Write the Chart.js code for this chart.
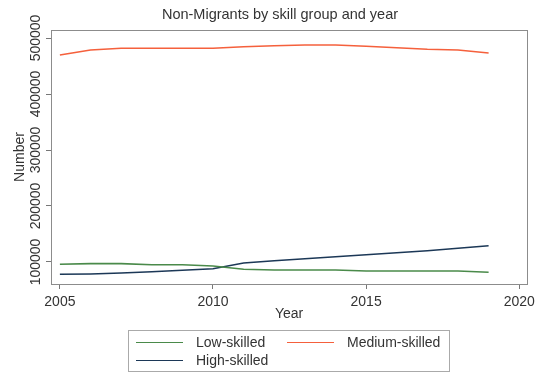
<!DOCTYPE html>
<html>
<head>
<meta charset="utf-8">
<script src="https://cdn.jsdelivr.net/npm/chart.js@4/dist/chart.umd.min.js"></script>
<style>
  html, body { margin: 0; padding: 0; background: #fff; }
  #wrap { width: 540px; height: 374px; }
</style>
</head>
<body>
<div id="wrap"><canvas id="lineChart" width="540" height="374"></canvas></div>
<script>
const years = [2005, 2006, 2007, 2008, 2009, 2010, 2011, 2012, 2013, 2014, 2015, 2016, 2017, 2018, 2019];
const lowSkilled = [95900, 97000, 97000, 95200, 95200, 92900, 87000, 85700, 85700, 85700, 83900, 83900, 83900, 83900, 81600];
const mediumSkilled = [469600, 478600, 481600, 481600, 481600, 481600, 484500, 486300, 487500, 487500, 485200, 482700, 479800, 478600, 473200];
const highSkilled = [78000, 78600, 80400, 82700, 85200, 88000, 98200, 102300, 105900, 109400, 113000, 116600, 120200, 124500, 129100];
const xTicks = [2005, 2010, 2015, 2020];
const yTicks = [100000, 200000, 300000, 400000, 500000];

const chartTitle = 'Non-Migrants by skill group and year';
const seriesNames = ['Low-skilled', 'Medium-skilled', 'High-skilled'];
const seriesColors = ['#4a8a4a', '#f5603c', '#1c3857'];
const seriesValues = [lowSkilled, mediumSkilled, highSkilled];

const FONT = "'Liberation Sans', Arial, sans-serif";
Chart.defaults.font.family = FONT;
Chart.defaults.font.size = 14;
Chart.defaults.color = '#333';

// title, centred the way Stata does it (over the whole graph incl. axis area)
const topTitle = {
  id: 'topTitle',
  afterDraw(chart) {
    const { ctx } = chart;
    ctx.save();
    ctx.fillStyle = '#333';
    ctx.font = '14.5px ' + FONT;
    ctx.textAlign = 'center';
    ctx.textBaseline = 'middle';
    ctx.fillText(chartTitle, 280, 15);
    ctx.restore();
  }
};

// box around the plot region
const frame = {
  id: 'frame',
  afterDatasetsDraw(chart) {
    const { ctx, chartArea: a } = chart;
    ctx.save();
    ctx.strokeStyle = '#8c8c8c';
    ctx.lineWidth = 1;
    ctx.strokeRect(Math.round(a.left) + 0.5, Math.round(a.top) + 0.5,
      Math.round(a.right - a.left), Math.round(a.bottom - a.top));
    ctx.restore();
  }
};

// vertical y tick labels
const yLabels = {
  id: 'yLabels',
  afterDraw(chart) {
    const { ctx } = chart;
    const s = chart.scales.y;
    ctx.save();
    ctx.fillStyle = '#333';
    ctx.font = '14px ' + FONT;
    ctx.textAlign = 'center';
    ctx.textBaseline = 'alphabetic';
    s.ticks.forEach(t => {
      const py = s.getPixelForValue(t.value);
      ctx.save();
      ctx.translate(40, py);
      ctx.rotate(-Math.PI / 2);
      ctx.fillText(String(t.value), 0, 0);
      ctx.restore();
    });
    ctx.restore();
  }
};

// boxed legend below the x title
const boxLegend = {
  id: 'boxLegend',
  afterDraw(chart) {
    const { ctx } = chart;
    const ds = chart.data.datasets;
    const spots = [
      { x: 136, y: 342 },
      { x: 287, y: 342 },
      { x: 136, y: 360 }
    ];
    ctx.save();
    ctx.strokeStyle = '#aaa';
    ctx.lineWidth = 1;
    ctx.strokeRect(128.5, 330.5, 321, 41);
    ctx.font = '14px ' + FONT;
    ctx.textBaseline = 'middle';
    ctx.textAlign = 'left';
    ds.forEach((d, i) => {
      const p = spots[i];
      ctx.strokeStyle = d.borderColor;
      ctx.lineWidth = 1.2;
      ctx.beginPath();
      ctx.moveTo(p.x, p.y + 0.5);
      ctx.lineTo(p.x + 47, p.y + 0.5);
      ctx.stroke();
      ctx.fillStyle = '#333';
      ctx.fillText(d.label, p.x + 60, p.y + 1);
    });
    ctx.restore();
  }
};

new Chart(document.getElementById('lineChart'), {
  type: 'line',
  data: {
    datasets: seriesNames.map((name, i) => ({
      label: name,
      data: years.map((yr, j) => ({ x: yr, y: seriesValues[i][j] })),
      borderColor: seriesColors[i],
      backgroundColor: seriesColors[i],
      borderWidth: 1.6,
      pointRadius: 0,
      tension: 0,
      fill: false
    }))
  },
  options: {
    responsive: false,
    animation: false,
    devicePixelRatio: 1,
    layout: { padding: { left: 0, right: 12, top: 30, bottom: 51 } },
    plugins: {
      legend: { display: false },
      tooltip: { enabled: false },
      title: { display: false }
    },
    scales: {
      x: {
        type: 'linear',
        min: 2004.71,
        max: 2020.26,
        afterBuildTicks: s => { s.ticks = xTicks.map(v => ({ value: v })); },
        afterFit: s => { s.height = 39; },
        ticks: { padding: 5, color: '#333', callback: v => String(v) },
        grid: { drawOnChartArea: false, drawTicks: true, tickLength: 5, color: '#777' },
        border: { display: true, color: '#8c8c8c' },
        title: { display: true, text: 'Year', color: '#333', font: { size: 14 }, padding: { top: 0, bottom: 0 } }
      },
      y: {
        min: 60700,
        max: 514300,
        afterBuildTicks: s => { s.ticks = yTicks.map(v => ({ value: v })); },
        afterFit: s => { s.width = 51; },
        ticks: { display: false },
        grid: { drawOnChartArea: false, drawTicks: true, tickLength: 5, color: '#777' },
        border: { display: true, color: '#8c8c8c' },
        title: { display: true, text: 'Number', color: '#333', font: { size: 14 }, padding: { top: 12, bottom: 0 } }
      }
    }
  },
  plugins: [frame, yLabels, boxLegend, topTitle]
});
</script>
</body>
</html>
